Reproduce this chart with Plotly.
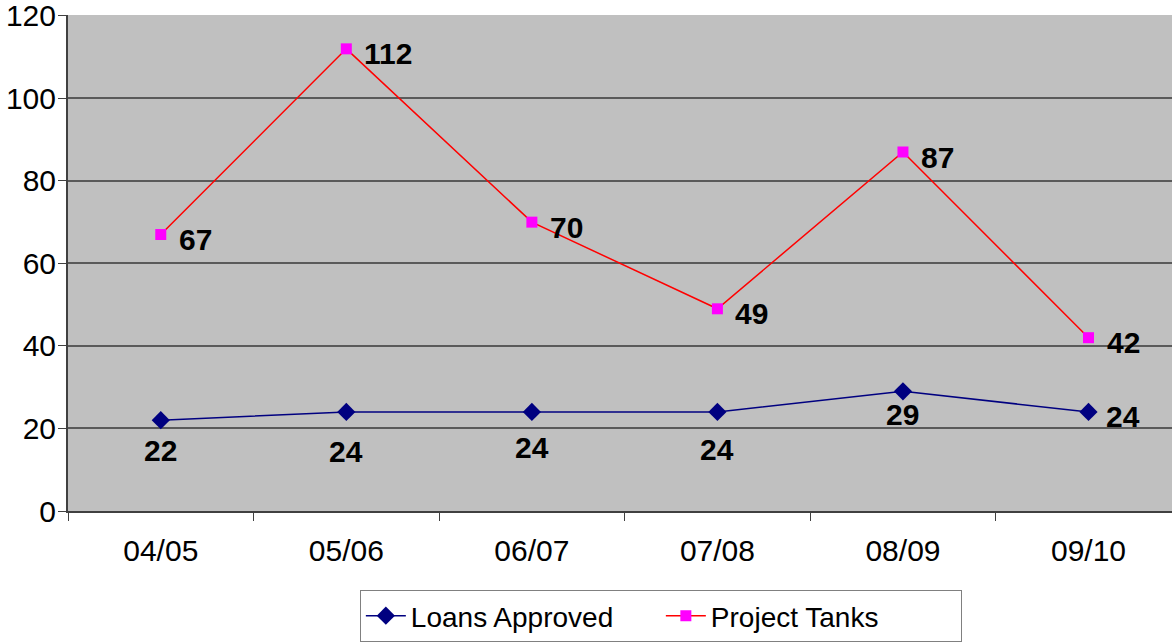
import plotly.graph_objects as go

years = ['04/05', '05/06', '06/07', '07/08', '08/09', '09/10']
loans_approved = [22, 24, 24, 24, 29, 24]
project_tanks = [67, 112, 70, 49, 87, 42]

# label offsets (px) for the Loans Approved labels, as Excel placed them
loan_dx = [0, 0, 0, 0, 0, 15]
loan_dy = [-30, -40, -36, -38, -23, -5]

label_font = dict(family='Liberation Sans', size=30, color='black', weight='bold')

fig = go.Figure()
fig.add_trace(go.Scatter(x=years, y=loans_approved, name='Loans Approved',
                         mode='lines+markers',
                         line=dict(color='#000080', width=1.5),
                         marker=dict(symbol='diamond', size=14, color='#000080')))
fig.add_trace(go.Scatter(x=years, y=project_tanks, name='Project Tanks',
                         mode='lines+markers',
                         line=dict(color='#FF0000', width=1.5),
                         marker=dict(symbol='square', size=11, color='#FF00FF')))

for i, (x, y) in enumerate(zip(years, loans_approved)):
    fig.add_annotation(x=x, y=y, text=str(y), showarrow=False, font=label_font,
                       xanchor='left' if loan_dx[i] else 'center',
                       xshift=loan_dx[i], yshift=loan_dy[i])
for x, y in zip(years, project_tanks):
    fig.add_annotation(x=x, y=y, text=str(y), showarrow=False, font=label_font,
                       xanchor='left', xshift=16, yshift=-5)

fig.update_layout(
    width=1172, height=642,
    margin=dict(l=68, r=0, t=15, b=130),
    paper_bgcolor='white', plot_bgcolor='#C0C0C0',
    font=dict(family='Liberation Sans', size=30, color='black'),
    showlegend=True,
    legend=dict(orientation='h', x=0.537, xanchor='center', y=-0.16, yanchor='top',
                bordercolor='#808080', borderwidth=1, bgcolor='white',
                font=dict(size=28), itemwidth=40, entrywidth=245),
)
fig.update_xaxes(range=[-0.5, 5.45], showgrid=False, showline=True, linecolor='#404040', linewidth=2,
                 ticks='outside', tickson='boundaries', ticklen=8, tickcolor='#404040', tickwidth=1,
                 zeroline=False, automargin=False, tickfont=dict(size=30), ticklabelstandoff=12)
fig.update_yaxes(range=[0, 120.2], tickvals=[0, 20, 40, 60, 80, 100, 120], showgrid=True,
                 gridcolor='#5a5a5a', gridwidth=1.5,
                 showline=True, linecolor='#404040', linewidth=2, ticks='outside', ticklen=8,
                 tickcolor='#404040', zeroline=False, automargin=False, tickfont=dict(size=30),
                 ticklabeloverflow='allow', ticklabelstandoff=-4)

fig.write_html("out.html", config={'displayModeBar': False},
               post_script="document.body.style.margin='0';")
